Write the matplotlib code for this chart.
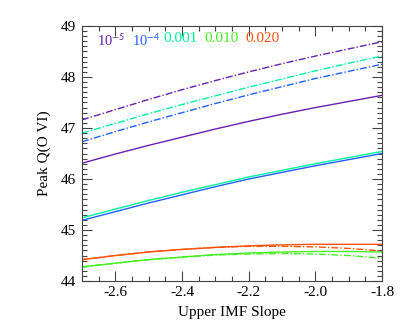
import numpy as np
import matplotlib.pyplot as plt
from matplotlib.ticker import MultipleLocator

# upper IMF slope grid
slope = [-2.7, -2.6, -2.5, -2.4, -2.3, -2.2, -2.1, -2.0, -1.9, -1.8]

labels = ["10$^{\\mathsf{-5}}$", "10$^{\\mathsf{-4}}$", "0.001", "0.010", "0.020"]
colors = ["#6a1fb0", "#2060ff", "#00f59a", "#44f020", "#ff5208"]

# peak Q(O VI), solid curves
solid = [
    [46.31, 46.49, 46.66, 46.82, 46.98, 47.13, 47.27, 47.40, 47.52, 47.64],
    [45.19, 45.36, 45.53, 45.69, 45.85, 46.00, 46.13, 46.26, 46.38, 46.50],
    [45.24, 45.41, 45.58, 45.74, 45.89, 46.04, 46.17, 46.30, 46.42, 46.54],
    [44.28, 44.35, 44.42, 44.47, 44.52, 44.55, 44.57, 44.58, 44.58, 44.57],
    [44.42, 44.50, 44.57, 44.62, 44.66, 44.69, 44.71, 44.72, 44.72, 44.72],
]
# dash-dot curves
dashdot = [
    [47.16, 47.36, 47.56, 47.75, 47.93, 48.10, 48.26, 48.41, 48.55, 48.69],
    [46.73, 46.93, 47.12, 47.30, 47.48, 47.65, 47.81, 47.97, 48.11, 48.25],
    [46.90, 47.09, 47.28, 47.46, 47.63, 47.80, 47.96, 48.12, 48.27, 48.41],
    [44.27, 44.35, 44.42, 44.47, 44.51, 44.53, 44.54, 44.53, 44.50, 44.45],
    [44.42, 44.50, 44.57, 44.62, 44.66, 44.68, 44.68, 44.67, 44.64, 44.59],
]

plt.rcParams['font.family'] = ['Liberation Serif', 'DejaVu Serif']
plt.rcParams['mathtext.fontset'] = 'stix'

fig = plt.figure(figsize=(4.07, 3.33), dpi=100)
ax = fig.add_axes([0.2015, 0.156, 0.737, 0.766])

for s, d, c in zip(solid, dashdot, colors):
    ax.plot(slope, s, color=c, lw=1.0)
    ax.plot(slope, d, color=c, lw=1.0, dashes=(5, 1.5, 1, 1.5))

ax.set_xlim(-2.7, -1.8)
ax.set_ylim(44, 49)
ax.xaxis.set_major_locator(MultipleLocator(0.2))
ax.xaxis.set_minor_locator(MultipleLocator(0.05))
ax.yaxis.set_major_locator(MultipleLocator(1))
ax.yaxis.set_minor_locator(MultipleLocator(0.1))
ax.set_xticks([-2.6, -2.4, -2.2, -2.0, -1.8])
ax.set_xticklabels(["-2.6", "-2.4", "-2.2", "-2.0", "-1.8"])
ax.tick_params(which='both', direction='in', top=True, right=True, labelsize=11, color='#444444')
ax.tick_params(which='major', length=7, width=0.8)
ax.tick_params(which='minor', length=3.5, width=0.8)
ax.tick_params(axis='y', pad=4)
for sp in ax.spines.values():
    sp.set_linewidth(0.8)
    sp.set_color('#444444')

ax.set_xlabel("Upper IMF Slope", fontsize=11, labelpad=5)
ax.set_ylabel("Peak Q(O VI)", fontsize=11, labelpad=7)

xpos = [0.05, 0.165, 0.27, 0.407, 0.543]
sizes = [10.5, 10.5, 11, 11, 11]
for lab, c, xp, fs in zip(labels, colors, xpos, sizes):
    ax.text(xp, 0.975, lab, color=c, fontsize=fs, transform=ax.transAxes, va='top', ha='left')

fig.savefig("out.png", dpi=100)
